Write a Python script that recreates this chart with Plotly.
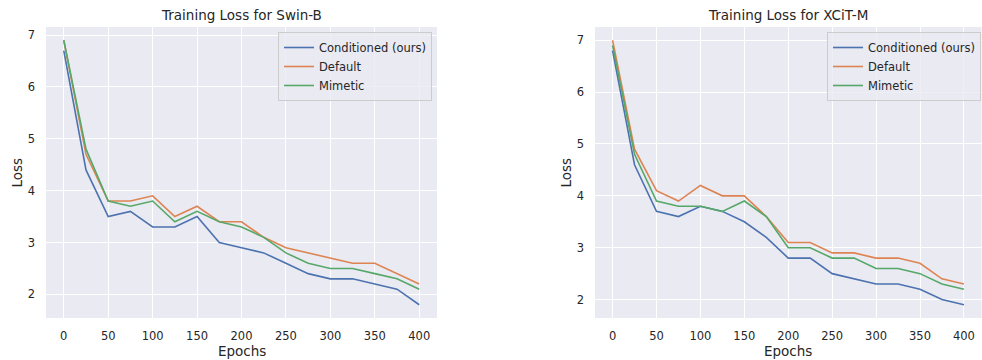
import plotly.graph_objects as go

epochs = [0, 25, 50, 75, 100, 125, 150, 175, 200, 225, 250, 275, 300, 325, 350, 375, 400]

swin_conditioned = [6.7, 4.4, 3.5, 3.6, 3.3, 3.3, 3.5, 3.0, 2.9, 2.8, 2.6, 2.4, 2.3, 2.3, 2.2, 2.1, 1.8]
swin_default = [6.9, 4.7, 3.8, 3.8, 3.9, 3.5, 3.7, 3.4, 3.4, 3.1, 2.9, 2.8, 2.7, 2.6, 2.6, 2.4, 2.2]
swin_mimetic = [6.9, 4.8, 3.8, 3.7, 3.8, 3.4, 3.6, 3.4, 3.3, 3.1, 2.8, 2.6, 2.5, 2.5, 2.4, 2.3, 2.1]

xcit_conditioned = [6.8, 4.6, 3.7, 3.6, 3.8, 3.7, 3.5, 3.2, 2.8, 2.8, 2.5, 2.4, 2.3, 2.3, 2.2, 2.0, 1.9]
xcit_default = [7.0, 4.9, 4.1, 3.9, 4.2, 4.0, 4.0, 3.6, 3.1, 3.1, 2.9, 2.9, 2.8, 2.8, 2.7, 2.4, 2.3]
xcit_mimetic = [6.9, 4.8, 3.9, 3.8, 3.8, 3.7, 3.9, 3.6, 3.0, 3.0, 2.8, 2.8, 2.6, 2.6, 2.5, 2.3, 2.2]

series_names = ["Conditioned (ours)", "Default", "Mimetic"]
colors = ["#4C72B0", "#DD8452", "#55A868"]
titles = ["Training Loss for Swin-B", "Training Loss for XCiT-M"]
x_ticks = [0, 50, 100, 150, 200, 250, 300, 350, 400]
y_ticks = [2, 3, 4, 5, 6, 7]

FONT = "DejaVu Sans"
TXT = "#262626"
fig = go.Figure()

panels = [
    ([swin_conditioned, swin_default, swin_mimetic], "x", "y", "legend"),
    ([xcit_conditioned, xcit_default, xcit_mimetic], "x2", "y2", "legend2"),
]
for data, xa, ya, lg in panels:
    for name, vals, c in zip(series_names, data, colors):
        fig.add_trace(go.Scatter(x=epochs, y=vals, mode="lines", name=name,
                                 line=dict(color=c, width=1.6),
                                 xaxis=xa, yaxis=ya, legend=lg))

def yrange(data):
    lo = min(min(d) for d in data)
    hi = max(max(d) for d in data)
    m = (hi - lo) * 0.05
    return [lo - m, hi + m]

W, H = 982, 360
ydom = [1 - 318 / H, 1 - 27 / H]
xdom1 = [46 / W, 437 / W]
xdom2 = [595 / W, 981.5 / W]

axis_common = dict(showgrid=True, gridcolor="white", gridwidth=1, zeroline=False,
                   showline=False, ticks="", tickfont=dict(family=FONT, size=11.5, color=TXT))

legend_common = dict(xanchor="right", yanchor="top",
                     bgcolor="rgba(234,234,242,0.8)", bordercolor="#CCCCCC", borderwidth=1,
                     font=dict(family=FONT, size=11.5, color=TXT), tracegroupgap=0,
                     itemwidth=30)

fig.update_layout(
    width=W, height=H,
    margin=dict(l=0, r=0, t=0, b=0),
    paper_bgcolor="white",
    plot_bgcolor="#EAEAF2",
    font=dict(family=FONT, color=TXT),
    xaxis=dict(domain=xdom1, range=[-20, 420], tickvals=x_ticks, anchor="y",
               ticklabelstandoff=9, **axis_common),
    yaxis=dict(domain=ydom, range=yrange(panels[0][0]), tickvals=y_ticks, anchor="x",
               ticklabelstandoff=10, **axis_common),
    xaxis2=dict(domain=xdom2, range=[-20, 420], tickvals=x_ticks, anchor="y2",
                ticklabelstandoff=9, **axis_common),
    yaxis2=dict(domain=ydom, range=yrange(panels[1][0]), tickvals=y_ticks, anchor="x2",
                ticklabelstandoff=10, **axis_common),
    legend=dict(x=432 / W, y=1 - 32 / H, **legend_common),
    legend2=dict(x=981 / W, y=1 - 32 / H, **legend_common),
    showlegend=True,
)

annotations = []
for xd, t in zip([xdom1, xdom2], titles):
    cx = (xd[0] + xd[1]) / 2
    annotations.append(dict(text=t, x=cx, y=1 - 15 / H, xref="paper", yref="paper",
                            showarrow=False, xanchor="center", yanchor="middle",
                            font=dict(family=FONT, size=13.5, color=TXT)))
    annotations.append(dict(text="Epochs", x=cx, y=1 - 351 / H, xref="paper", yref="paper",
                            showarrow=False, xanchor="center", yanchor="middle",
                            font=dict(family=FONT, size=13.5, color=TXT)))
for lx in [16, 565]:
    annotations.append(dict(text="Loss", x=lx / W, y=(ydom[0] + ydom[1]) / 2, xref="paper", yref="paper",
                            showarrow=False, textangle=-90, xanchor="center", yanchor="middle",
                            font=dict(family=FONT, size=13.5, color=TXT)))
fig.update_layout(annotations=annotations)

fig.write_html("out.html")
